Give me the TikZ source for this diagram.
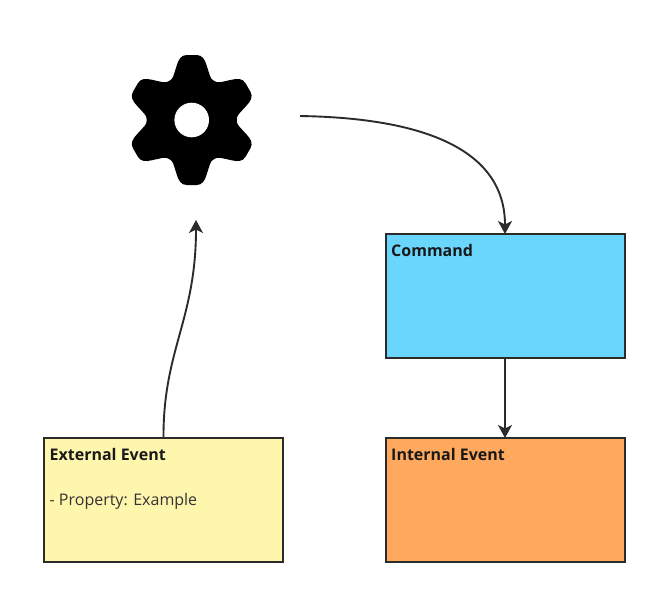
\documentclass[tikz,border=0pt]{standalone}
\usepackage{fontspec}
\setmainfont{Open Sans}
\usetikzlibrary{arrows.meta}
\definecolor{ink}{HTML}{2B2B2B}
\definecolor{stickyyellow}{HTML}{FFF6AE}
\definecolor{stickyblue}{HTML}{6BD6FC}
\definecolor{stickyorange}{HTML}{FFA95F}
\tikzset{
  sticky/.style={draw=ink,line width=2pt,minimum width=239pt,minimum height=124pt,inner sep=0pt,outer sep=0pt,anchor=north west},
  title/.style={anchor=north west,inner sep=0pt,font=\fontsize{16}{20}\selectfont\bfseries,text=black!90},
  body/.style={anchor=north west,inner sep=0pt,font=\fontsize{16}{20}\selectfont,text=black!80},
  flow/.style={draw=ink,line width=1.9pt,-{Stealth[length=13pt,width=14pt,inset=3.5pt]}}
}
\begin{document}
\begin{tikzpicture}[x=1pt,y=-1pt]
\useasboundingbox (0,0) rectangle (669,606);
% gear: one lobe repeated every 60 degrees (clockwise on the page)
\begin{scope}[shift={(191.7,120)}]
\fill[black] (-22.5,-39)
  \foreach \a in {0,-60,-120,-180,-240,-300} {
    .. controls ([rotate=\a]-20.5,-40.2) and ([rotate=\a]-19,-41.5) .. ([rotate=\a]-18.3,-44)
    -- ([rotate=\a]-14.8,-55)
    .. controls ([rotate=\a]-13.2,-60.5) and ([rotate=\a]-10.5,-65) .. ([rotate=\a]-5,-65)
    -- ([rotate=\a]5,-65)
    .. controls ([rotate=\a]10.5,-65) and ([rotate=\a]13.2,-60.5) .. ([rotate=\a]14.8,-55)
    -- ([rotate=\a]18.3,-44)
    .. controls ([rotate=\a]19,-41.5) and ([rotate=\a]20.5,-40.2) .. ([rotate=\a]22.5,-39)
  } -- cycle;
\fill[white] (0,0) circle (17.3);
\end{scope}
\coordinate (gearout) at (300,116);
\coordinate (gearin) at (196,220);
% boxes
\node[sticky,fill=stickyyellow] (external) at (44,438) {};
\node[sticky,fill=stickyblue] (command) at (385.5,234) {};
\node[sticky,fill=stickyorange] (internal) at (385.5,438) {};
% text
\node[title] (externalt) at (49.5,445) [yshift=-3.5pt] {External Event};
\node[body] (externalb) at (49.5,489.5) [yshift=-3.5pt] {- Property: Example};
\node[title] (commandt) at (391,241) [yshift=-3.5pt] {Command};
\node[title] (internalt) at (391,445) [yshift=-3.5pt] {Internal Event};
% connectors
\draw[flow] (gearout) .. controls (425,118) and (505,150) .. (command.north);
\draw[flow] (command.south) -- (internal.north);
\draw[flow] (external.north) .. controls (163,350) and (196,320) .. (gearin);
\end{tikzpicture}
\end{document}
